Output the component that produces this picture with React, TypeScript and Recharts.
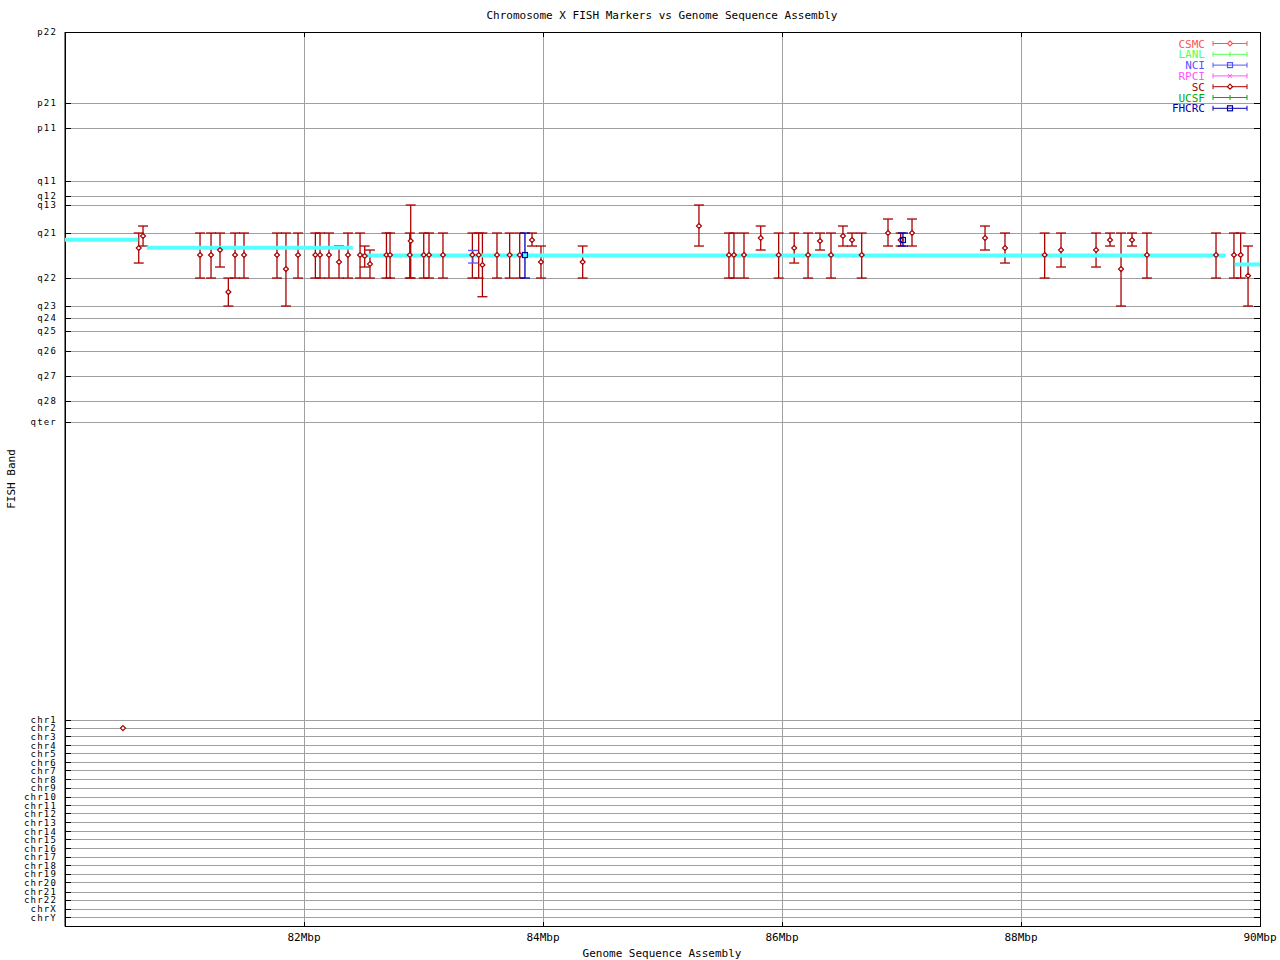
import React from 'react'
import { ScatterChart, Scatter, XAxis, YAxis, CartesianGrid, ErrorBar, ReferenceArea } from 'recharts'

const FONT = '"DejaVu Sans Mono", monospace'
const W = 1280
const H = 960
const PL = 65
const PR = 1260
const PT = 32
const PB = 926.5

// band axis (position units, top = 0)
const bandLabels = ['p22', 'p21', 'p11', 'q11', 'q12', 'q13', 'q21', 'q22', 'q23', 'q24', 'q25', 'q26', 'q27', 'q28', 'qter']
const bandPos = [0, 71, 96, 149, 164, 173, 201, 246, 274, 286, 299, 319, 344, 369, 390]
const chrLabels = ['chr1', 'chr2', 'chr3', 'chr4', 'chr5', 'chr6', 'chr7', 'chr8', 'chr9', 'chr10', 'chr11', 'chr12',
  'chr13', 'chr14', 'chr15', 'chr16', 'chr17', 'chr18', 'chr19', 'chr20', 'chr21', 'chr22', 'chrX', 'chrY']
const chrPos = [688, 696, 704.7, 713.4, 721.7, 730.4, 738.7, 747.7, 756, 765, 773.4, 781.7,
  790.7, 799.4, 807.7, 816.4, 825, 833.4, 842, 850.7, 860, 868, 877, 885.4]
const Y_MAX = 894.4

const xTicks = [82, 84, 86, 88, 90]

// SC markers (Mbp, band position, range top, range bottom)
const scMbp = [80.617, 80.653, 81.13, 81.222, 81.297, 81.367, 81.423, 81.498, 81.774, 81.849, 81.95, 82.095,
  82.134, 82.209, 82.293, 82.368, 82.469, 82.508, 82.552, 82.69, 82.72, 82.885, 82.893, 83.002, 83.046, 83.163,
  83.409, 83.462, 83.493, 83.615, 83.721, 83.805, 83.908, 83.983, 84.332, 85.305, 85.556, 85.598, 85.682, 85.822,
  85.972, 86.102, 86.218, 86.318, 86.41, 86.51, 86.586, 86.667, 86.887, 86.993, 87.088, 87.699, 87.866, 88.198,
  88.335, 88.628, 88.745, 88.837, 88.929, 89.054, 89.632, 89.782, 89.838, 89.9]
const scBand = [216, 204, 223, 223, 218, 260, 223, 223, 223, 237, 223, 223,
  223, 223, 230, 223, 223, 224, 232, 223, 223, 223, 209, 223, 223, 223,
  223, 223, 233, 223, 223, 223, 208, 230, 230, 194, 223, 223, 223, 206,
  223, 216, 223, 209, 223, 204, 208, 223, 201, 208, 201, 206, 216, 223,
  218, 218, 208, 237, 208, 223, 223, 223, 223, 243.7]
const scTop = [201, 194, 201, 201, 201, 246, 201, 201, 201, 201, 201, 201,
  201, 201, 214, 201, 201, 214, 218, 201, 201, 201, 173, 201, 201, 201,
  201, 201, 201, 201, 201, 201, 201, 214, 214, 173, 201, 201, 201, 194,
  201, 201, 201, 201, 201, 194, 201, 201, 187, 201, 187, 194, 201, 201,
  201, 201, 201, 201, 201, 201, 201, 201, 201, 214]
const scBottom = [231, 214, 246, 246, 235, 274, 246, 246, 246, 274, 246, 246,
  246, 246, 246, 246, 246, 235, 246, 246, 246, 246, 246, 246, 246, 246,
  246, 246, 264.7, 246, 246, 246, 214, 246, 246, 214, 246, 246, 246, 218,
  246, 231, 246, 218, 246, 214, 214, 246, 214, 214, 214, 218, 231, 246,
  235, 235, 214, 274, 214, 246, 246, 246, 246, 274]

// SC marker mapped to another chromosome
const scOtherMbp = [80.485]
const scOtherPos = [696]

const fhMbp = [83.849, 87.012]
const fhBand = [223, 208]
const fhTop = [201, 201]
const fhBottom = [246, 214]

const nciMbp = [83.414]
const nciBand = [224.5]
const nciTop = [218.4]
const nciBottom = [231]

// sequence assembly placement segments
const segMbp = [[79.98, 80.613], [80.684, 82.408], [82.483, 89.711], [89.788, 90]]
const segPos = [207.7, 215.7, 223.4, 232.4]

const legendNames = ['CSMC', 'LANL', 'NCI', 'RPCI', 'SC', 'UCSF', 'FHCRC']
const legendColors = ['#ff5555', '#55ff55', '#5555ff', '#ff55ff', '#aa0000', '#00aa00', '#0000aa']
const legendMarks = ['diamond', 'tick', 'square', 'cross', 'diamond', 'tick', 'square']

const build = (xs: number[], ys: number[], tops: number[], bottoms: number[]) =>
  xs.map((x, i) => ({ x, y: ys[i], err: [ys[i] - tops[i], bottoms[i] - ys[i]] }))

const scData = build(scMbp, scBand, scTop, scBottom)
const fhData = build(fhMbp, fhBand, fhTop, fhBottom)
const nciData = build(nciMbp, nciBand, nciTop, nciBottom)
const scOtherData = scOtherMbp.map((x, i) => ({ x, y: scOtherPos[i] }))
const segData = segMbp.map((pair, i) => pair.map(x => ({ x, y: segPos[i] })))

const yTicks = [...bandPos, ...chrPos]
const yLabelOf: Record<string, string> = {}
bandPos.forEach((v, i) => (yLabelOf[String(v)] = bandLabels[i]))
chrPos.forEach((v, i) => (yLabelOf[String(v)] = chrLabels[i]))

const Diamond = ({ cx, cy, color }: any) => (
  <polygon points={`${cx},${cy - 2.5} ${cx + 2.5},${cy} ${cx},${cy + 2.5} ${cx - 2.5},${cy}`} fill="#fff" stroke={color} strokeWidth={1.2} />
)
const Square = ({ cx, cy, color }: any) => (
  <rect x={cx - 2.5} y={cy - 2.5} width={5} height={5} fill="none" stroke={color} strokeWidth={1.2} />
)

function YTick(props: any) {
  const { y, payload } = props
  return (
    <g>
      <line x1={PL} x2={PL + 6} y1={y} y2={y} stroke="#000" shapeRendering="crispEdges" />
      <line x1={PR - 6} x2={PR} y1={y} y2={y} stroke="#000" shapeRendering="crispEdges" />
      <text x={57} y={y + 3.3} textAnchor="end" fontFamily={FONT} fontSize={9} letterSpacing={1.2} fill="#000">
        {yLabelOf[String(payload.value)]}
      </text>
    </g>
  )
}

function XTick(props: any) {
  const { x, payload } = props
  return (
    <g>
      <line x1={x} x2={x} y1={PB} y2={PB - 5} stroke="#000" shapeRendering="crispEdges" />
      <line x1={x} x2={x} y1={PT} y2={PT + 5} stroke="#000" shapeRendering="crispEdges" />
      <text x={x} y={941} textAnchor="middle" fontFamily={FONT} fontSize={11} fill="#000">
        {`${payload.value}Mbp`}
      </text>
    </g>
  )
}

function LegendMark({ kind, cx, cy, color }: any) {
  if (kind === 'diamond') return <Diamond cx={cx} cy={cy} color={color} />
  if (kind === 'square') return <Square cx={cx} cy={cy} color={color} />
  if (kind === 'cross')
    return (
      <g stroke={color}>
        <line x1={cx - 2} y1={cy - 2} x2={cx + 2} y2={cy + 2} />
        <line x1={cx - 2} y1={cy + 2} x2={cx + 2} y2={cy - 2} />
      </g>
    )
  return <line x1={cx} x2={cx} y1={cy - 2.5} y2={cy + 2.5} stroke={color} />
}

export default function App() {
  return (
    <div style={{ position: 'absolute', left: 0, top: 0, width: W, height: H, background: '#fff' }}>
      <ScatterChart width={W} height={H} margin={{ top: PT, right: W - PR, bottom: H - PB - 30, left: 0 }}>
        <CartesianGrid stroke="#a0a0a0" shapeRendering="crispEdges" />
        <XAxis
          type="number"
          dataKey="x"
          domain={[80, 90]}
          ticks={xTicks}
          interval={0}
          height={30}
          tick={<XTick />}
          tickLine={false}
          axisLine={{ stroke: '#000' }}
          allowDataOverflow
        />
        <YAxis
          type="number"
          dataKey="y"
          domain={[0, Y_MAX]}
          reversed
          ticks={yTicks}
          interval={0}
          width={PL}
          tick={<YTick />}
          tickLine={false}
          axisLine={{ stroke: '#000' }}
          allowDataOverflow
        />
        <ReferenceArea x1={80} x2={90} y1={0} y2={Y_MAX} fill="none" stroke="#000" ifOverflow="visible" shapeRendering="crispEdges" />
        {segData.map((d, i) => (
          <Scatter
            key={i}
            data={d}
            line={{ stroke: '#55ffff', strokeWidth: 4 }}
            shape={() => <g />}
            isAnimationActive={false}
          />
        ))}
        <Scatter data={scData} shape={(p: any) => <Diamond cx={p.cx} cy={p.cy} color="#aa0000" />} isAnimationActive={false}>
          <ErrorBar dataKey="err" direction="y" width={5} stroke="#aa0000" strokeWidth={1.3} isAnimationActive={false} />
        </Scatter>
        <Scatter data={scOtherData} shape={(p: any) => <Diamond cx={p.cx} cy={p.cy} color="#aa0000" />} isAnimationActive={false} />
        <Scatter data={nciData} shape={() => <g />} isAnimationActive={false}>
          <ErrorBar dataKey="err" direction="y" width={5} stroke="#5555ff" strokeWidth={1.3} isAnimationActive={false} />
        </Scatter>
        <Scatter data={fhData} shape={(p: any) => <Square cx={p.cx} cy={p.cy} color="#0000aa" />} isAnimationActive={false}>
          <ErrorBar dataKey="err" direction="y" width={5} stroke="#0000aa" strokeWidth={1.3} isAnimationActive={false} />
        </Scatter>
      </ScatterChart>
      <svg width={W} height={H} style={{ position: 'absolute', left: 0, top: 0, pointerEvents: 'none' }}>
        <text x={662} y={19} textAnchor="middle" fontFamily={FONT} fontSize={11} fill="#000">
          Chromosome X FISH Markers vs Genome Sequence Assembly
        </text>
        <text x={662} y={957} textAnchor="middle" fontFamily={FONT} fontSize={11} fill="#000">
          Genome Sequence Assembly
        </text>
        <text x={15} y={479} textAnchor="middle" fontFamily={FONT} fontSize={11} fill="#000" transform="rotate(-90 15 479)">
          FISH Band
        </text>
        {legendNames.map((name, i) => {
          const cy = 43.5 + i * 10.8
          const c = legendColors[i]
          return (
            <g key={name}>
              <text x={1205} y={cy + 4} textAnchor="end" fontFamily={FONT} fontSize={11} fill={c}>{name}</text>
              <line x1={1213} x2={1247} y1={cy} y2={cy} stroke={c} />
              <line x1={1213} x2={1213} y1={cy - 2.5} y2={cy + 2.5} stroke={c} />
              <line x1={1247} x2={1247} y1={cy - 2.5} y2={cy + 2.5} stroke={c} />
              <LegendMark kind={legendMarks[i]} cx={1230} cy={cy} color={c} />
            </g>
          )
        })}
      </svg>
    </div>
  )
}
